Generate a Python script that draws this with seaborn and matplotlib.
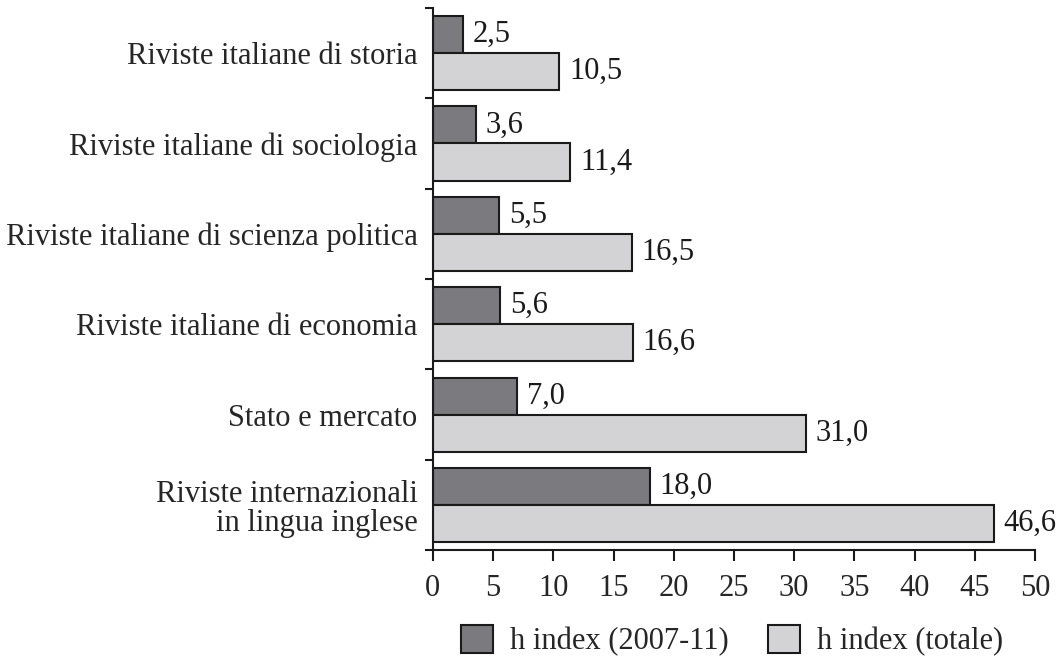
import matplotlib
matplotlib.use("Agg")
import matplotlib.pyplot as plt
import seaborn as sns
import pandas as pd
import numpy as np
from matplotlib.patches import Patch

categories = ["Riviste italiane di storia",
              "Riviste italiane di sociologia",
              "Riviste italiane di scienza politica",
              "Riviste italiane di economia",
              "Stato e mercato",
              "Riviste internazionali\nin lingua inglese"]
h_recent = [2.5, 3.6, 5.5, 5.6, 7.0, 18.0]
h_total = [10.5, 11.4, 16.5, 16.6, 31.0, 46.6]
series = ["h index (2007-11)", "h index (totale)"]
colors = ["#7b7b7f", "#d3d3d5"]
xticks = [0, 5, 10, 15, 20, 25, 30, 35, 40, 45, 50]

sns.set_theme(style="white")
plt.rcParams['font.family'] = ['Liberation Serif', 'DejaVu Serif']

FS = 22

df = pd.DataFrame({
    "cat": categories * 2,
    "val": h_recent + h_total,
    "serie": [series[0]] * len(categories) + [series[1]] * len(categories),
})

fig = plt.figure(figsize=(10.61, 6.59), dpi=100)
ax = fig.add_axes([0.408, 0.165, 0.5675, 0.823])
sns.barplot(data=df, y="cat", x="val", hue="serie", order=categories,
            hue_order=series, palette=colors, orient="h", width=0.82,
            edgecolor="#1a1a1a", linewidth=1.5, legend=False, ax=ax, saturation=1)

for cont in ax.containers:
    labels = [f"{v:.1f}".replace(".", ",") for v in cont.datavalues]
    ax.bar_label(cont, labels=labels, padding=7, fontsize=FS, color="#1a1a1a")

ax.set_xlim(0, 50)
ax.set_ylim(len(categories) - 0.5, -0.5)
ax.set_xticks(xticks)
ax.set_xticklabels([str(t) for t in xticks], fontsize=FS)
ax.set_yticks(range(len(categories)))
ax.set_yticklabels(categories, fontsize=FS, linespacing=1.0)
ax.set_yticks(np.arange(-0.5, len(categories), 1.0), minor=True)
ax.tick_params(axis="y", which="major", length=0, pad=11)
ax.tick_params(axis="y", which="minor", length=6, width=1.5, color="#1a1a1a", left=True)
ax.tick_params(axis="x", length=8, width=1.5, color="#1a1a1a", bottom=True, pad=9)
ax.set_xlabel("")
ax.set_ylabel("")
for s in ["top", "right"]:
    ax.spines[s].set_visible(False)
for s in ["left", "bottom"]:
    ax.spines[s].set_color("#1a1a1a")
    ax.spines[s].set_linewidth(1.5)

handles = [Patch(facecolor=c, edgecolor="#1a1a1a", linewidth=1.5) for c in colors]
fig.legend(handles, series, loc="center", bbox_to_anchor=(0.69, 0.028), ncol=2,
           frameon=False, fontsize=FS, handlelength=1.05, handleheight=1.05,
           columnspacing=1.3, handletextpad=0.55, borderpad=0.2)

fig.savefig("out.png", dpi=100)
